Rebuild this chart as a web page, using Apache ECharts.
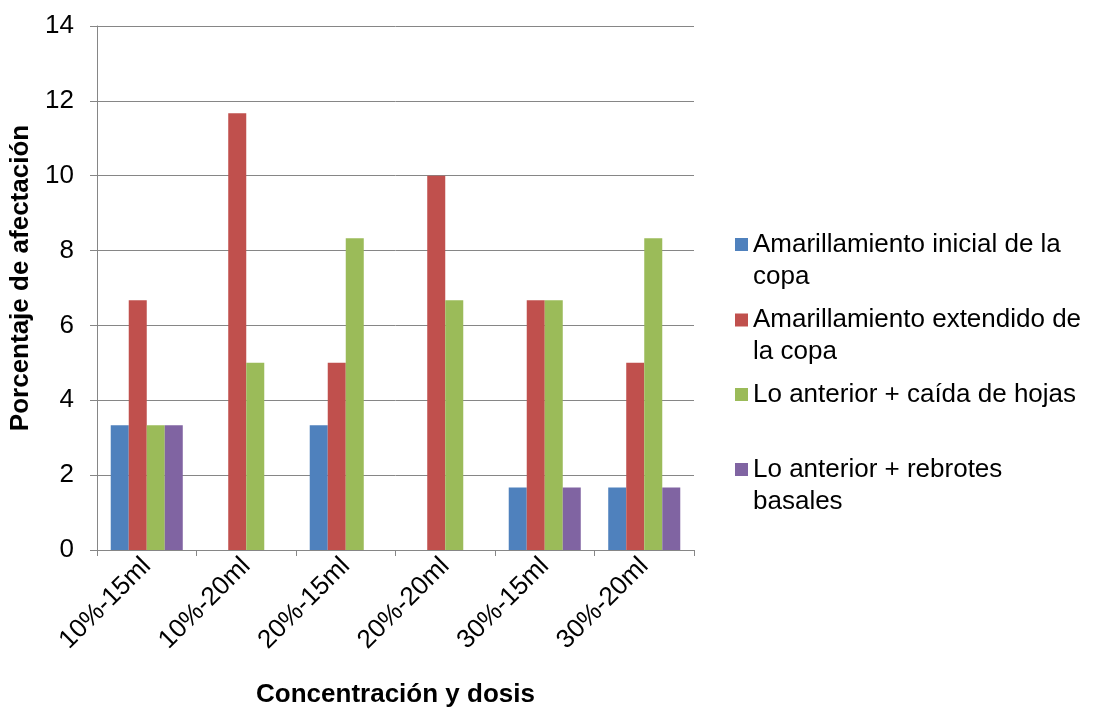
<!DOCTYPE html>
<html>
<head>
<meta charset="utf-8">
<script src="https://cdn.jsdelivr.net/npm/echarts@6/dist/echarts.min.js"></script>
<style>html,body{margin:0;padding:0;background:#fff}#c{width:1093px;height:711px}</style>
</head>
<body>
<div id="c"></div>
<script>
const categories = ['10%-15ml', '10%-20ml', '20%-15ml', '20%-20ml', '30%-15ml', '30%-20ml'];
const seriesNames = [
  'Amarillamiento inicial de la\ncopa',
  'Amarillamiento extendido de\nla copa',
  'Lo anterior + caída de hojas',
  'Lo anterior + rebrotes\nbasales'
];
const amarillamientoInicial = [3.33, 0, 3.33, 0, 1.67, 1.67];
const amarillamientoExtendido = [6.67, 11.67, 5, 10, 6.67, 5];
const caidaHojas = [3.33, 5, 8.33, 6.67, 6.67, 8.33];
const rebrotesBasales = [3.33, 0, 0, 0, 1.67, 1.67];
const yTicks = [0, 2, 4, 6, 8, 10, 12, 14];

const colors = ['#4F81BD', '#C0504D', '#9BBB59', '#8064A2'];
const values = [amarillamientoInicial, amarillamientoExtendido, caidaHojas, rebrotesBasales];
const FONT = "'Liberation Sans', Arial, sans-serif";
const FS = 26;
const LH = 32;

const firstLineCenters = [244.5, 320, 394.5, 469.5];
const legends = seriesNames.map((n, i) => {
  const multi = n.indexOf('\n') >= 0;
  return {
    data: [n],
    left: 735,
    top: firstLineCenters[i] - LH / 2 - (multi ? LH : 0),
    orient: 'vertical',
    icon: 'rect',
    itemWidth: 13,
    itemHeight: 13,
    itemGap: 0,
    padding: 0,
    selectedMode: false,
    formatter: name => (name.indexOf('\n') >= 0 ? ' \n' + name : name),
    textStyle: { fontFamily: FONT, fontSize: FS, color: '#000', lineHeight: LH }
  };
});

const chart = echarts.init(document.getElementById('c'));
chart.setOption({
  animation: false,
  backgroundColor: '#fff',
  color: colors,
  legend: legends,
  grid: { left: 97, right: 399, top: 26, bottom: 161, containLabel: false, outerBoundsMode: 'none' },
  xAxis: {
    type: 'category',
    data: categories,
    name: 'Concentración y dosis',
    nameLocation: 'middle',
    nameGap: 132,
    nameTextStyle: { fontFamily: FONT, fontSize: FS, fontWeight: 'bold', color: '#000' },
    axisLine: { lineStyle: { color: '#868686', width: 1 } },
    axisTick: { show: true, length: 6, lineStyle: { color: '#868686' } },
    axisLabel: { rotate: 45, fontFamily: FONT, fontSize: FS, color: '#000', margin: 12 }
  },
  yAxis: {
    type: 'value',
    min: yTicks[0],
    max: yTicks[yTicks.length - 1],
    interval: 2,
    name: 'Porcentaje de afectación',
    nameLocation: 'middle',
    nameGap: 62,
    nameRotate: 90,
    nameTextStyle: { fontFamily: FONT, fontSize: FS, fontWeight: 'bold', color: '#000', padding: [0, 0, 0, 20] },
    axisLine: { show: true, lineStyle: { color: '#868686', width: 1 } },
    axisTick: { show: true, length: 7, lineStyle: { color: '#868686' } },
    splitLine: { show: true, lineStyle: { color: '#868686', width: 1 } },
    axisLabel: { fontFamily: FONT, fontSize: FS, color: '#000', margin: 23 }
  },
  series: seriesNames.map((n, i) => ({
    name: n,
    type: 'bar',
    data: values[i],
    barGap: '0%',
    barCategoryGap: '27.6%',
    itemStyle: { color: colors[i] }
  }))
});
</script>
</body>
</html>
